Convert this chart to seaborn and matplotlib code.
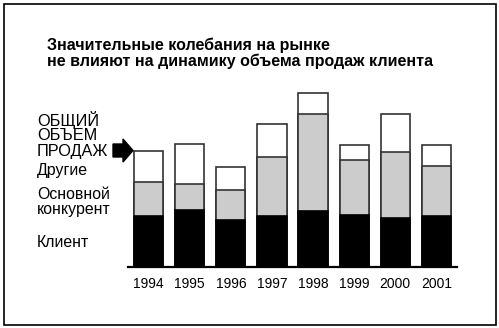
import matplotlib
matplotlib.use("Agg")
import matplotlib.pyplot as plt
import seaborn as sns
import pandas as pd
from matplotlib.patches import Rectangle, FancyArrow

years = ["1994", "1995", "1996", "1997", "1998", "1999", "2000", "2001"]
client = [51.6, 57.0, 47.6, 51.6, 56.3, 52.6, 49.6, 51.6]
competitor = [34.0, 26.6, 29.4, 58.4, 97.0, 54.7, 65.4, 50.0]
others = [31.0, 39.4, 23.6, 33.6, 21.0, 15.3, 38.6, 21.0]

title_lines = ["Значительные колебания на рынке",
               "не влияют на динамику объема продаж клиента"]
label_total = ["ОБЩИЙ", "ОБЪЕМ", "ПРОДАЖ"]
label_others = "Другие"
label_comp = ["Основной", "конкурент"]
label_client = "Клиент"

df = pd.DataFrame({"year": years, "client": client,
                   "competitor": competitor, "others": others})
df["cum_comp"] = df["client"] + df["competitor"]
df["total"] = df["cum_comp"] + df["others"]

sns.set_theme(style="white")
plt.rcParams["font.family"] = ["Liberation Sans", "DejaVu Sans"]

W, H = 499, 328
fig = plt.figure(figsize=(W / 100, H / 100), dpi=100)
ax = fig.add_axes([127.7 / W, (H - 267.3) / H, (457.3 - 127.7) / W, 180 / H])

edge = "#333333"
sns.barplot(data=df, x="year", y="total", order=years, color="white",
            edgecolor=edge, linewidth=1.2, width=0.71, saturation=1, ax=ax)
sns.barplot(data=df, x="year", y="cum_comp", order=years, color="#cccccc",
            edgecolor=edge, linewidth=1.2, width=0.71, saturation=1, ax=ax)
sns.barplot(data=df, x="year", y="client", order=years, color="black",
            edgecolor="black", linewidth=1.2, width=0.71, saturation=1, ax=ax)

ax.set_xlim(-0.51, 7.51)
ax.set_ylim(0, 180)
ax.set_xlabel("")
ax.set_ylabel("")
ax.set_yticks([])
for s in ["top", "right", "left"]:
    ax.spines[s].set_visible(False)
ax.spines["bottom"].set_color("black")
ax.spines["bottom"].set_linewidth(1.6)
ax.tick_params(axis="x", length=0, pad=7, labelsize=10, colors="black")


def ftext(px, py, s, **kw):
    fig.text(px / W, 1 - py / H, s, va="center", ha="left", color="black", **kw)


ftext(46.7, 45, title_lines[0], fontsize=11.5, fontweight="bold")
ftext(46.7, 61, title_lines[1], fontsize=11.5, fontweight="bold")

for i, t in enumerate(label_total):
    ftext(37.0, 120 + i * 15.8, t, fontsize=11.7)
ftext(37.0, 171, label_others, fontsize=11.4)
ftext(37.0, 194.3, label_comp[0], fontsize=11.4)
ftext(37.0, 209.5, label_comp[1], fontsize=11.4)
ftext(37.0, 242.7, label_client, fontsize=11.4)

# arrow pointing at the first bar's total
arrow = FancyArrow(113 / W, 1 - 150.5 / H, 20 / W, 0, width=13 / H,
                   head_width=23 / H, head_length=10 / W,
                   length_includes_head=True, transform=fig.transFigure,
                   color="black")
fig.patches.append(arrow)

# outer frame
fig.patches.append(Rectangle((3.5 / W, 3.5 / H), (495.5 - 3.5) / W, (324.5 - 3.5) / H,
                             transform=fig.transFigure, fill=False,
                             edgecolor="black", linewidth=1.2))

fig.savefig("out.png", dpi=100)
